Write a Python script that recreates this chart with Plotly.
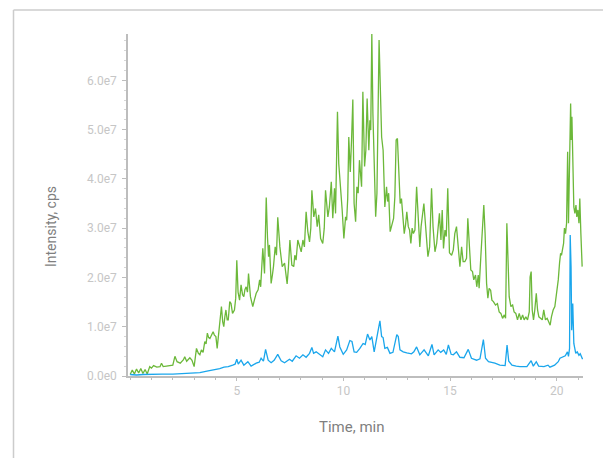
import plotly.graph_objects as go

# ---------------- data (time in min, intensity in millions of cps) ----------------
green_t = [0.0, 0.1, 0.2, 0.3, 0.4, 0.5, 0.6, 0.7, 0.8, 0.92, 1.0, 1.1, 1.25, 1.4, 1.47, 1.55, 1.7, 1.85,
           2.0, 2.1, 2.2, 2.35, 2.5, 2.56, 2.65, 2.8, 2.9, 3.0, 3.11, 3.2, 3.27, 3.34, 3.42, 3.5, 3.56,
           3.62, 3.68, 3.74, 3.82, 3.89, 3.95, 4.02, 4.08, 4.15, 4.2, 4.28, 4.34, 4.39, 4.44, 4.49, 4.55,
           4.6, 4.67, 4.73, 4.8, 4.89, 4.95, 5.0, 5.06, 5.13, 5.2, 5.27, 5.33, 5.38, 5.44, 5.5, 5.55,
           5.6, 5.64, 5.7, 5.75, 5.83, 5.91, 6.0, 6.07, 6.12, 6.22, 6.3, 6.38, 6.44, 6.49, 6.53, 6.57,
           6.61, 6.67, 6.72, 6.8, 6.86, 6.92, 6.97, 7.02, 7.08, 7.13, 7.24, 7.3, 7.36, 7.42, 7.49, 7.58,
           7.67, 7.72, 7.78, 7.86, 7.94, 8.02, 8.1, 8.17, 8.25, 8.33, 8.41, 8.47, 8.52, 8.57, 8.61, 8.69,
           8.77, 8.84, 8.93, 9.03, 9.1, 9.16, 9.22, 9.27, 9.34, 9.43, 9.5, 9.55, 9.58, 9.63, 9.67, 9.72,
           9.78, 9.88, 9.94, 10.02, 10.1, 10.15, 10.2, 10.25, 10.32, 10.38, 10.44, 10.5, 10.57, 10.63,
           10.69, 10.75, 10.85, 10.91, 10.99, 11.05, 11.11, 11.19, 11.24, 11.28, 11.33, 11.38, 11.44,
           11.51, 11.57, 11.63, 11.67, 11.74, 11.79, 11.86, 11.94, 12.02, 12.07, 12.12, 12.19, 12.25,
           12.35, 12.41, 12.47, 12.53, 12.6, 12.66, 12.72, 12.78, 12.85, 12.91, 12.97, 13.04, 13.1,
           13.16, 13.22, 13.28, 13.35, 13.43, 13.5, 13.58, 13.64, 13.71, 13.77, 13.83, 13.9, 13.96,
           14.04, 14.13, 14.2, 14.29, 14.37, 14.44, 14.5, 14.57, 14.63, 14.69, 14.76, 14.82, 14.89,
           14.97, 15.07, 15.15, 15.22, 15.3, 15.38, 15.46, 15.54, 15.61, 15.69, 15.77, 15.83, 15.9,
           15.97, 16.05, 16.11, 16.19, 16.25, 16.32, 16.36, 16.44, 16.52, 16.58, 16.64, 16.71, 16.77,
           16.83, 16.9, 16.96, 17.03, 17.13, 17.22, 17.3, 17.38, 17.46, 17.54, 17.6, 17.66, 17.71,
           17.77, 17.85, 17.93, 18.0, 18.08, 18.16, 18.24, 18.32, 18.4, 18.47, 18.55, 18.63, 18.71,
           18.75, 18.8, 18.85, 18.91, 18.97, 19.04, 19.1, 19.16, 19.24, 19.32, 19.39, 19.47, 19.55,
           19.63, 19.69, 19.75, 19.83, 19.91, 19.99, 20.07, 20.13, 20.18, 20.22, 20.27, 20.32, 20.36,
           20.41, 20.46, 20.51, 20.55, 20.6, 20.65, 20.68, 20.71, 20.75, 20.8, 20.85, 20.9, 20.94,
           20.99, 21.04, 21.08, 21.13, 21.19]
green_v = [0.3, 1.2, 0.4, 1.4, 0.6, 1.5, 0.5, 1.3, 0.4, 1.9, 1.6, 2.1, 1.8, 1.9, 2.6, 1.9, 2.0, 2.1,
           2.2, 4.0, 2.9, 2.6, 3.3, 3.9, 3.0, 3.7, 3.2, 1.9, 5.6, 4.6, 4.3, 5.3, 4.8, 7.0, 6.5,
           8.7, 7.8, 7.6, 8.5, 9.0, 8.3, 8.0, 5.6, 8.8, 9.7, 14.1, 11.0, 10.0, 12.0, 13.4, 11.4,
           11.4, 15.1, 14.7, 12.7, 13.4, 15.8, 23.5, 17.0, 15.4, 18.5, 16.5, 16.1, 17.5, 18.1, 17.0, 20.8,
           17.5, 16.1, 15.0, 14.1, 15.5, 16.8, 17.5, 19.5, 18.1, 25.9, 20.8, 36.2, 28.0, 24.2, 26.6, 22.0,
           18.8, 20.5, 22.2, 26.2, 24.5, 32.2, 28.0, 26.2, 24.0, 22.2, 22.9, 20.5, 18.7, 22.0, 27.6, 22.5,
           22.2, 24.5, 23.5, 27.6, 26.2, 25.2, 27.6, 26.2, 33.3, 29.3, 27.2, 30.0, 37.7, 34.0, 32.3, 34.0,
           30.3, 32.7, 27.9, 26.9, 30.0, 37.7, 34.0, 32.3, 34.3, 39.4, 32.0, 35.0, 38.1, 33.0, 44.5, 53.6,
           43.1, 37.7, 33.7, 27.9, 32.3, 31.6, 36.0, 48.5, 41.4, 47.9, 56.1, 35.0, 31.3, 38.4,
           37.1, 43.8, 38.4, 57.7, 42.5, 45.8, 56.3, 45.8, 51.9, 49.9, 69.5, 53.3, 41.1,
           32.3, 37.1, 60.0, 68.2, 56.7, 48.5, 45.8, 34.3, 38.4, 35.4, 37.1, 29.3, 30.3,
           32.0, 36.4, 47.9, 48.2, 42.5, 35.0, 36.0, 32.3, 28.9, 30.6, 33.3, 30.3, 29.6,
           26.9, 30.0, 28.9, 29.6, 38.4, 31.0, 26.2, 30.3, 32.7, 35.0, 31.6, 28.3, 24.2,
           26.2, 38.1, 30.3, 25.2, 26.9, 31.0, 33.0, 27.6, 33.7, 25.9, 29.6, 28.3, 38.1,
           25.0, 24.5, 25.6, 28.9, 30.3, 26.2, 22.2, 26.2, 23.2, 23.2, 23.9, 32.0, 26.2,
           21.5, 21.2, 19.5, 20.5, 18.1, 20.5, 17.8, 24.2, 29.6, 34.7, 28.9, 18.8, 15.8,
           17.8, 17.4, 15.4, 15.1, 14.4, 14.7, 13.0, 12.7, 11.7, 12.4, 11.7, 31.0, 22.2,
           16.1, 14.1, 14.4, 13.0, 12.7, 11.4, 12.7, 11.4, 12.4, 11.4, 12.0, 11.4, 13.0,
           20.1, 21.2, 13.4, 11.4, 13.4, 16.8, 13.4, 12.0, 11.7, 11.4, 13.4, 11.4, 11.7,
           11.0, 10.3, 12.0, 13.4, 14.1, 16.8, 19.5, 22.9, 24.9, 24.5, 26.2, 26.9, 30.0,
           28.9, 31.0, 45.5, 31.0, 45.2, 55.3, 47.9, 52.6, 44.5, 34.3, 33.0, 34.7, 32.3,
           33.7, 31.0, 36.0, 28.9, 22.2]

blue_t = [0.0, 0.3, 0.6, 1.0, 1.5, 2.0, 2.5, 3.0, 3.27, 3.6, 3.9, 4.2, 4.4, 4.6, 4.81, 4.92, 5.0, 5.07,
          5.2, 5.33, 5.52, 5.67, 5.91, 6.05, 6.14, 6.25, 6.35, 6.47, 6.61, 6.75, 6.92, 7.08, 7.24, 7.47,
          7.6, 7.78, 7.94, 8.1, 8.25, 8.41, 8.52, 8.6, 8.72, 8.88, 9.03, 9.16, 9.3, 9.43, 9.58, 9.74,
          9.83, 9.99, 10.15, 10.3, 10.4, 10.5, 10.62, 10.77, 10.92, 11.02, 11.13, 11.24, 11.33, 11.44,
          11.55, 11.71, 11.79, 11.86, 11.94, 12.06, 12.18, 12.32, 12.5, 12.57, 12.65, 12.8, 12.97,
          13.19, 13.3, 13.43, 13.58, 13.78, 13.98, 14.15, 14.25, 14.44, 14.56, 14.7, 14.82, 14.92,
          15.05, 15.15, 15.3, 15.46, 15.65, 15.85, 16.0, 16.24, 16.4, 16.56, 16.66, 16.8, 17.1, 17.33,
          17.58, 17.67, 17.75, 17.9, 18.1, 18.27, 18.6, 18.8, 18.9, 19.04, 19.15, 19.4, 19.59, 19.68,
          19.9, 20.07, 20.15, 20.3, 20.4, 20.5, 20.55, 20.6, 20.63, 20.67, 20.7, 20.75, 20.8, 20.89,
          20.96, 21.04, 21.1, 21.21]
blue_v = [0.3, 0.2, 0.3, 0.4, 0.4, 0.4, 0.5, 0.6, 0.7, 1.0, 1.2, 1.5, 1.8, 1.9, 2.2, 2.4, 3.4, 2.4,
          3.2, 2.2, 2.9, 2.0, 2.6, 2.8, 3.6, 3.0, 5.4, 3.2, 2.7, 3.2, 4.4, 3.1, 2.7, 3.4,
          3.0, 4.1, 3.6, 4.3, 3.8, 4.6, 5.8, 4.6, 4.9, 4.3, 3.9, 5.3, 4.6, 5.6, 4.9, 8.1,
          5.9, 4.4, 5.3, 7.2, 7.0, 4.9, 4.8, 5.6, 6.6, 6.4, 8.5, 7.3, 8.0, 4.9,
          7.3, 11.2, 8.0, 7.8, 5.6, 5.8, 4.6, 4.8, 8.4, 8.0, 5.3, 4.9, 4.7,
          4.5, 4.9, 5.9, 4.3, 5.3, 4.1, 6.4, 4.3, 5.3, 4.8, 5.3, 4.4, 6.3,
          4.4, 4.3, 4.9, 3.8, 3.7, 5.4, 3.6, 3.2, 3.5, 7.4, 3.6, 2.9, 2.6, 2.2,
          2.1, 6.3, 3.0, 2.2, 2.0, 1.9, 1.9, 3.1, 2.0, 2.9, 2.0, 1.9, 2.2, 1.8,
          2.2, 2.9, 3.6, 3.9, 4.1, 4.9, 4.0, 5.6, 28.6, 22.2, 9.3, 14.7, 6.6, 4.6,
          4.9, 4.2, 4.5, 3.4]

x_tick_vals = [5, 10, 15, 20]
y_tick_vals = [0, 1e7, 2e7, 3e7, 4e7, 5e7, 6e7]
y_tick_text = ["0.0e0", "1.0e7", "2.0e7", "3.0e7", "4.0e7", "5.0e7", "6.0e7"]
x_title = "Time, min"
y_title = "Intensity, cps"

GREEN = "#6cb83a"
BLUE = "#1aa6ec"
TICK_COL = "#c6c6c6"
AXIS_COL = "#bdbdbd"
TITLE_COL = "#7f7f7f"
FONT = "Roboto"

fig = go.Figure()
fig.add_trace(go.Scatter(x=green_t, y=[v * 1e6 for v in green_v], mode="lines",
                         line=dict(color=GREEN, width=1.3), showlegend=False))
fig.add_trace(go.Scatter(x=blue_t, y=[v * 1e6 for v in blue_v], mode="lines",
                         line=dict(color=BLUE, width=1.3), showlegend=False))

L, R, T, B = 128, 20, 34, 82
W, H = 603, 458
pw, ph = W - L - R, H - T - B

def px2paper_x(px):
    return (px - L) / pw

def px2paper_y(py):
    return (H - B - py) / ph

fig.update_layout(
    width=W, height=H,
    margin=dict(l=L, r=R, t=T, b=B, pad=0),
    paper_bgcolor="white", plot_bgcolor="white",
    font=dict(family=FONT, size=12, color=TICK_COL),
    xaxis=dict(range=[-0.1, 21.23], tickvals=x_tick_vals, ticks="outside", ticklen=3,
               tickcolor=AXIS_COL, showline=True, linecolor=AXIS_COL, linewidth=1.5,
               showgrid=False, zeroline=False,
               tickfont=dict(family=FONT, size=12, color=TICK_COL),
               minor=dict(dtick=1, ticks="outside", ticklen=2, tickcolor=AXIS_COL, showgrid=False)),
    yaxis=dict(range=[0, 6.94e7], tickvals=y_tick_vals, ticktext=y_tick_text, ticks="outside",
               ticklen=4, tickcolor=AXIS_COL, showline=True, linecolor=AXIS_COL, linewidth=1.5,
               showgrid=False, zeroline=False, ticklabelstandoff=3,
               tickfont=dict(family=FONT, size=12, color=TICK_COL),
               minor=dict(dtick=2e6, ticks="outside", ticklen=2, tickcolor="#d6d6d6", showgrid=False)),
    annotations=[
        dict(text=y_title, xref="paper", yref="paper", x=px2paper_x(51), y=px2paper_y(227),
             textangle=-90, showarrow=False, xanchor="center", yanchor="middle",
             font=dict(family=FONT, size=14, color=TITLE_COL)),
        dict(text=x_title, xref="paper", yref="paper", x=px2paper_x(351), y=px2paper_y(427),
             showarrow=False, xanchor="center", yanchor="middle",
             font=dict(family=FONT, size=15, color=TITLE_COL)),
    ],
    shapes=[
        dict(type="line", xref="paper", yref="paper", x0=px2paper_x(13.5), x1=px2paper_x(13.5),
             y0=px2paper_y(10), y1=px2paper_y(470), line=dict(color="#cccccc", width=1.5)),
        dict(type="line", xref="paper", yref="paper", x0=px2paper_x(13.5), x1=px2paper_x(620),
             y0=px2paper_y(10), y1=px2paper_y(10), line=dict(color="#cccccc", width=1.5)),
    ],
)

fig.write_html("out.html")
